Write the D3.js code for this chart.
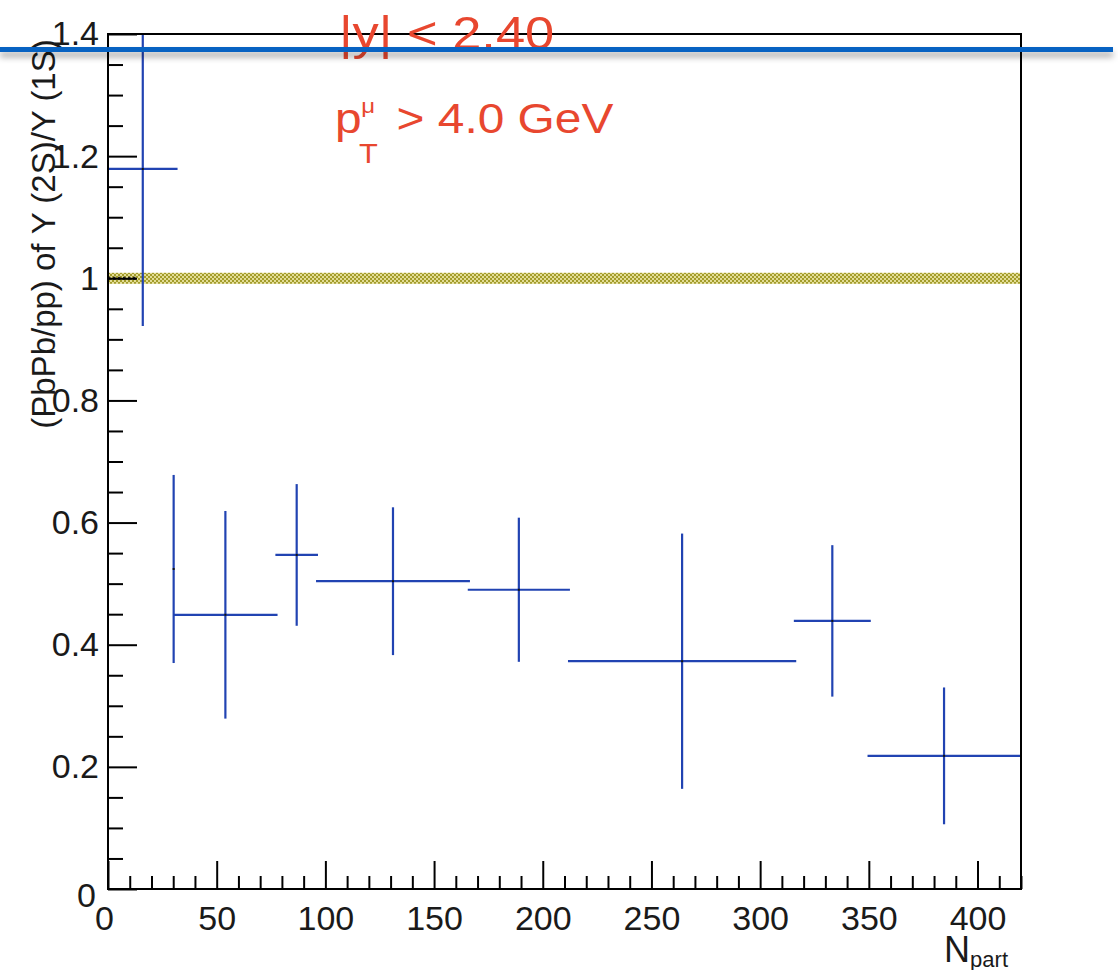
<!DOCTYPE html>
<html>
<head>
<meta charset="utf-8">
<script src="https://cdn.jsdelivr.net/npm/d3@7/dist/d3.min.js"></script>
<style>
  html, body { margin: 0; padding: 0; background: #fff; }
  svg { display: block; }
  text { font-family: "Liberation Sans", Arial, Helvetica, sans-serif; }
</style>
</head>
<body>
<svg id="chart" width="1118" height="970"></svg>
<script>
// Double ratio of Upsilon(2S)/Upsilon(1S), PbPb over pp, versus Npart
const npart    = [16.0, 30.2, 54.0, 86.8, 131.1, 189.0, 264.1, 333.2, 384.6];
const npartErr = [16.0, 0.0, 24.0, 9.8, 35.4, 23.5, 52.5, 17.7, 35.2];
const ratio    = [1.179, 0.524, 0.449, 0.547, 0.504, 0.490, 0.373, 0.439, 0.218];
const ratioErr = [0.257, 0.154, 0.170, 0.116, 0.121, 0.118, 0.209, 0.124, 0.112];

// unity reference band and the global uncertainty box drawn on it
const unityLevel = 1.0;
const unityHalfWidth = 0.009;
const globalBoxNpart = [0, 13];

const xMajorTicks = [0, 50, 100, 150, 200, 250, 300, 350, 400];
const yMajorTicks = [0, 0.2, 0.4, 0.6, 0.8, 1, 1.2, 1.4];
const xDomain = [0, 420];
const yDomain = [0, 1.4];

const cuts = ["|y| < 2.40", "4.0 GeV"];

const svg = d3.select("#chart");
const frame = { left: 108, right: 1021, top: 34, bottom: 889 };

const x = d3.scaleLinear().domain(xDomain).range([frame.left, frame.right]);
const y = d3.scaleLinear().domain(yDomain).range([frame.bottom, frame.top]);

const defs = svg.append("defs");
defs.append("clipPath").attr("id", "plotClip")
  .append("rect").attr("x", frame.left).attr("y", frame.top)
  .attr("width", frame.right - frame.left).attr("height", frame.bottom - frame.top);

const pat = defs.append("pattern").attr("id", "bandFill")
  .attr("patternUnits", "userSpaceOnUse").attr("width", 4).attr("height", 4);
pat.append("rect").attr("width", 4).attr("height", 4).attr("fill", "#e2dc96");
pat.append("rect").attr("x", 0).attr("y", 0).attr("width", 2).attr("height", 2).attr("fill", "#a39c2a");
pat.append("rect").attr("x", 2).attr("y", 2).attr("width", 2).attr("height", 2).attr("fill", "#a39c2a");

const shadow = defs.append("filter").attr("id", "soft")
  .attr("x", "-5%").attr("y", "-200%").attr("width", "110%").attr("height", "500%");
shadow.append("feGaussianBlur").attr("stdDeviation", 3);

// unity band
const plot = svg.append("g").attr("clip-path", "url(#plotClip)");
plot.append("rect")
  .attr("x", x(xDomain[0])).attr("width", x(xDomain[1]) - x(xDomain[0]))
  .attr("y", y(unityLevel + unityHalfWidth))
  .attr("height", y(unityLevel - unityHalfWidth) - y(unityLevel + unityHalfWidth))
  .attr("fill", "url(#bandFill)");
plot.append("line")
  .attr("x1", x(globalBoxNpart[0])).attr("x2", x(globalBoxNpart[1]))
  .attr("y1", y(unityLevel)).attr("y2", y(unityLevel))
  .attr("stroke", "#222").attr("stroke-width", 3).attr("stroke-dasharray", "2.5,2.5");

// axes
const xAxisMajor = d3.axisBottom(x).tickValues(xMajorTicks).tickSize(-28).tickPadding(17)
  .tickFormat(d3.format("d"));
const xMinorVals = d3.range(0, 421, 10).filter(v => v % 50 !== 0);
const xAxisMinor = d3.axisBottom(x).tickValues(xMinorVals).tickSize(-13).tickFormat("");
const yAxisMajor = d3.axisLeft(y).tickValues(yMajorTicks).tickSize(-29).tickPadding(9)
  .tickFormat(d => d === 0 ? "0" : d3.format("~g")(d));
const yMinorVals = d3.range(0, 1.4001, 0.05).map(v => +v.toFixed(2))
  .filter(v => Math.abs(v * 5 - Math.round(v * 5)) > 1e-6);
const yAxisMinor = d3.axisLeft(y).tickValues(yMinorVals).tickSize(-15).tickFormat("");

function styleAxis(g) {
  g.select(".domain").remove();
  g.selectAll(".tick line").attr("stroke", "#000").attr("stroke-width", 2);
  g.selectAll(".tick text").attr("fill", "#1a1a1a").attr("font-size", 34)
    .attr("font-family", "'Liberation Sans', Arial, sans-serif");
}
svg.append("g").attr("transform", `translate(0,${frame.bottom})`).call(xAxisMinor).call(styleAxis);
const gx = svg.append("g").attr("transform", `translate(0,${frame.bottom})`).call(xAxisMajor).call(styleAxis);
svg.append("g").attr("transform", `translate(${frame.left},0)`).call(yAxisMinor).call(styleAxis);
const gy = svg.append("g").attr("transform", `translate(${frame.left},0)`).call(yAxisMajor).call(styleAxis);
// the two zero labels sit slightly apart at the origin
gx.selectAll(".tick").filter(d => d === 0).select("text").attr("dx", -4);
gy.selectAll(".tick").filter(d => d === 0).select("text").attr("dy", "0.52em").attr("x", -12);

// frame
svg.append("rect").attr("x", frame.left).attr("y", frame.top)
  .attr("width", frame.right - frame.left).attr("height", frame.bottom - frame.top)
  .attr("fill", "none").attr("stroke", "#000").attr("stroke-width", 2);

// error crosses
const pts = npart.map((n, i) => ({ n, ne: npartErr[i], r: ratio[i], re: ratioErr[i] }));
const marks = plot.append("g");
const blue = "#2143b2";
marks.selectAll("line.h").data(pts.filter(d => d.ne > 0)).join("line").attr("class", "h")
  .attr("x1", d => x(d.n - d.ne)).attr("x2", d => x(d.n + d.ne))
  .attr("y1", d => y(d.r)).attr("y2", d => y(d.r))
  .attr("stroke", blue).attr("stroke-width", 2.2);
marks.selectAll("line.v").data(pts).join("line").attr("class", "v")
  .attr("x1", d => x(d.n)).attr("x2", d => x(d.n))
  .attr("y1", d => y(d.r - d.re)).attr("y2", d => y(d.r + d.re))
  .attr("stroke", blue).attr("stroke-width", 2.2);
marks.selectAll("rect.c").data(pts).join("rect").attr("class", "c")
  .attr("x", d => x(d.n) - 1).attr("y", d => y(d.r) - 1)
  .attr("width", 2).attr("height", 2).attr("fill", "#111");

// axis titles
svg.append("text")
  .attr("transform", "translate(55,234) rotate(-90)")
  .attr("text-anchor", "middle").attr("font-size", 33).attr("fill", "#1a1a1a")
  .text("(PbPb/pp) of \u03A5 (2S)/\u03A5 (1S)");

const nt = svg.append("text").attr("x", 1008).attr("y", 962)
  .attr("text-anchor", "end").attr("fill", "#1a1a1a");
nt.append("tspan").attr("font-size", 36).text("N");
nt.append("tspan").attr("font-size", 22).attr("dy", 5).text("part");

// kinematic cuts
const red = "#e8472f";
const c1 = svg.append("g").attr("transform", "translate(339,49) scale(1.14,1)");
c1.append("text").attr("font-size", 46).attr("fill", red).text(cuts[0]);

const c2 = svg.append("g").attr("transform", "translate(335,133) scale(1.14,1)");
c2.append("text").attr("font-size", 42).attr("fill", red).text("p");
c2.append("text").attr("x", 23).attr("y", -20).attr("font-size", 21).attr("fill", red).text("\u03BC");
c2.append("text").attr("x", 21).attr("y", 30).attr("font-size", 27).attr("fill", red).text("T");
c2.append("text").attr("x", 54).attr("font-size", 42).attr("fill", red).text("> " + cuts[1]);

// horizontal rule across the top, with its drop shadow
svg.append("rect").attr("x", 0).attr("y", 52).attr("width", 1113).attr("height", 5)
  .attr("fill", "rgba(0,0,0,0.35)").attr("filter", "url(#soft)");
svg.append("rect").attr("x", 0).attr("y", 47).attr("width", 1113).attr("height", 5)
  .attr("fill", "#0762c2");
</script>
</body>
</html>
